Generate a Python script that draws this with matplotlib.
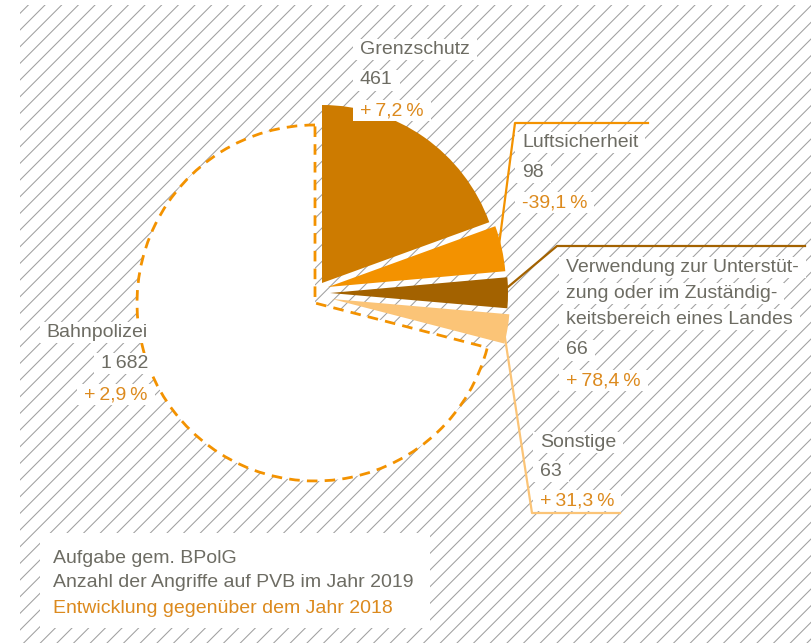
import matplotlib
matplotlib.use('Agg')
import matplotlib.pyplot as plt
from matplotlib.patches import Wedge, Rectangle

# data: Angriffe auf PVB 2019 nach Aufgabe gem. BPolG
categories = ['Grenzschutz', 'Luftsicherheit',
              'Verwendung zur Unterstüt-\nzung oder im Zuständig-\nkeitsbereich eines Landes',
              'Sonstige', 'Bahnpolizei']
counts = [461, 98, 66, 63, 1682]
count_labels = ['461', '98', '66', '63', '1\u2009682']
changes = ['+7,2%', '-39,1%', '+78,4%', '+31,3%', '+2,9%']
legend_lines = ['Aufgabe gem. BPolG',
                'Anzahl der Angriffe auf PVB im Jahr 2019',
                'Entwicklung gegenüber dem Jahr 2018']

colors = ['#cd7b00', '#f39200', '#a36200', '#fbc477', 'white']
GRAY = '#6d6c63'
ORANGE = '#dc8a1e'

plt.rcParams['font.family'] = ['Liberation Sans', 'DejaVu Sans']
plt.rcParams['hatch.color'] = '#a0a0a0'
plt.rcParams['hatch.linewidth'] = 0.75

W, H = 812, 643
FS = 14


def Y(y):
    # pixel row (from top) -> data y
    return H - y


def spaced(s):
    # the source typesets sign and percent with a little extra room
    s = s.replace('%', '\u2009%')
    if s.startswith('+'):
        s = '+\u2009' + s[1:]
    return s


fig = plt.figure(figsize=(8.12, 6.43), dpi=100)
ax = fig.add_axes([0, 0, 1, 1])
ax.set_xlim(0, W)
ax.set_ylim(0, H)
ax.axis('off')

# hatched background
ax.add_patch(Rectangle((20, 0), W - 20, Y(5), facecolor='white',
                       edgecolor='#a0a0a0', hatch='//', linewidth=0, zorder=0))

# pie slices, clockwise from 12 o'clock
cx, cy, R = 315, 303, 178
offsets = [(7, -20), (13, -16), (15, -10), (17, -4), (0, 0)]
total = sum(counts)
start = 90.0
for i, v in enumerate(counts):
    span = v * 360.0 / total
    t2, t1 = start, start - span
    start = t1
    dx, dy = offsets[i]
    if categories[i] == 'Bahnpolizei':
        ax.add_patch(Wedge((cx, Y(cy)), R, t1, t2, facecolor='white',
                           edgecolor='#f39200', lw=2.0,
                           linestyle=(0, (3.8, 2.6)), zorder=1))
    else:
        ax.add_patch(Wedge((cx + dx, Y(cy + dy)), R, t1, t2,
                           facecolor=colors[i], edgecolor='none', zorder=2))

# leader lines
ax.plot([499, 515, 648], [Y(245), Y(123), Y(123)], color=colors[1], lw=1.6, zorder=2)
ax.plot([508, 557, 805], [Y(287), Y(246), Y(246)], color=colors[2], lw=1.6, zorder=2)
ax.plot([505, 532, 620], [Y(338), Y(513), Y(513)], color=colors[3], lw=1.6, zorder=2)

# labels: (x, first baseline, line gap, anchor)
label_pos = [(360, 54, 30.5, 'left'),
             (522, 147, 30, 'left'),
             (566, 272, 26, 'left'),
             (540, 447, 29, 'left'),
             (148, 337, 31, 'right')]

texts = []
for i, (x, yb, gap, ha) in enumerate(label_pos):
    lines = categories[i].split('\n')
    rows = [(l, GRAY) for l in lines] + [(count_labels[i], GRAY),
                                         (spaced(changes[i]), ORANGE)]
    y = yb
    for j, (s, c) in enumerate(rows):
        gap_j = 30.5 if (i == 2 and j >= len(lines)) else gap
        if j > 0:
            y += gap_j
        t = ax.text(x, Y(y), s, color=c, fontsize=FS, ha=ha, va='baseline', zorder=4)
        texts.append(t)

# legend box
ax.add_patch(Rectangle((40, Y(628)), 390, 95, facecolor='white', edgecolor='none', zorder=3))
for k, (s, yb) in enumerate(zip(legend_lines, [563, 587, 613])):
    ax.text(53, Y(yb), s, color=ORANGE if k == 2 else GRAY, fontsize=FS,
            ha='left', va='baseline', zorder=4)

# white boxes behind the labels
fig.canvas.draw()
renderer = fig.canvas.get_renderer()
for t in texts:
    bb = t.get_window_extent(renderer)
    ax.add_patch(Rectangle((bb.x0 - 7, bb.y0 - 2), bb.width + 14, bb.height + 4,
                           facecolor='white', edgecolor='none', zorder=3))

fig.savefig('out.png', dpi=100)
